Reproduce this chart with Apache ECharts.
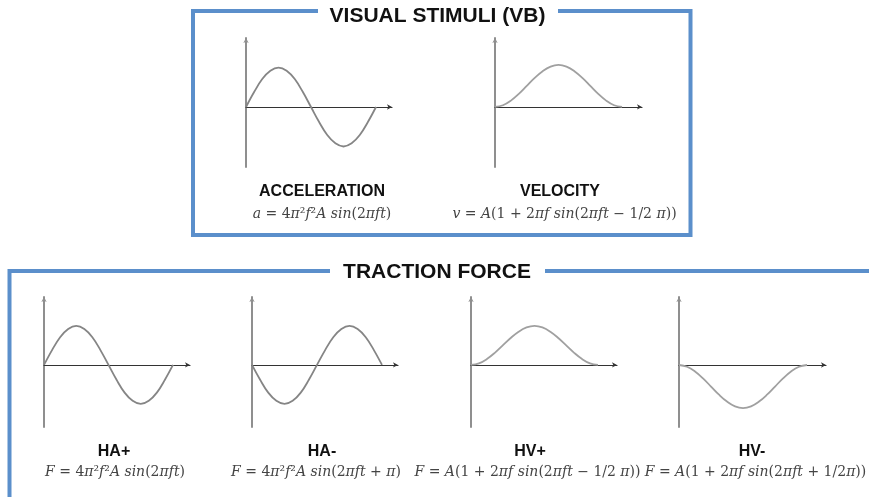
<!DOCTYPE html>
<html>
<head>
<meta charset="utf-8">
<script src="https://cdn.jsdelivr.net/npm/echarts@6/dist/echarts.min.js"></script>
<style>
html,body{margin:0;padding:0;background:#fff;}
#chart{width:869px;height:497px;}
</style>
</head>
<body>
<div id="chart"></div>
<script>
// ---- data (phase of one period, normalised amplitude) ----
const phase = [0, 0.0625, 0.125, 0.1875, 0.25, 0.3125, 0.375, 0.4375, 0.5, 0.5625, 0.625, 0.6875, 0.75, 0.8125, 0.875, 0.9375, 1];
const accelValues = [0, 0.38, 0.71, 0.92, 1, 0.92, 0.71, 0.38, 0, -0.38, -0.71, -0.92, -1, -0.92, -0.71, -0.38, 0];
const veloValues  = [0, 0.04, 0.15, 0.31, 0.5, 0.69, 0.85, 0.96, 1, 0.96, 0.85, 0.69, 0.5, 0.31, 0.15, 0.04, 0];
const haPlusValues  = [0, 0.38, 0.71, 0.92, 1, 0.92, 0.71, 0.38, 0, -0.38, -0.71, -0.92, -1, -0.92, -0.71, -0.38, 0];
const haMinusValues = [0, -0.38, -0.71, -0.92, -1, -0.92, -0.71, -0.38, 0, 0.38, 0.71, 0.92, 1, 0.92, 0.71, 0.38, 0];
const hvPlusValues  = [0, 0.04, 0.15, 0.31, 0.5, 0.69, 0.85, 0.96, 1, 0.96, 0.85, 0.69, 0.5, 0.31, 0.15, 0.04, 0];
const hvMinusValues = [0, -0.04, -0.15, -0.31, -0.5, -0.69, -0.85, -0.96, -1, -0.96, -0.85, -0.69, -0.5, -0.31, -0.15, -0.04, 0];

const panelNames = ['ACCELERATION', 'VELOCITY', 'HA+', 'HA-', 'HV+', 'HV-'];
const panelFormulas = [
  '{i|a} = 4{i|π}²{i|f}²{i|A sin}(2{i|πft})',
  '{i|v} = {i|A}(1 + 2{i|πf sin}(2{i|πft} − 1/2 {i|π}))',
  '{i|F} = 4{i|π}²{i|f}²{i|A sin}(2{i|πft})',
  '{i|F} = 4{i|π}²{i|f}²{i|A sin}(2{i|πft} + {i|π})',
  '{i|F} = {i|A}(1 + 2{i|πf sin}(2{i|πft} − 1/2 {i|π}))',
  '{i|F} = {i|A}(1 + 2{i|πf sin}(2{i|πft} + 1/2{i|π}))'
];
const panelSeries = [accelValues, veloValues, haPlusValues, haMinusValues, hvPlusValues, hvMinusValues];
const groupTitles = ['VISUAL STIMULI (VB)', 'TRACTION FORCE'];

// ---- layout ----
const layout = [
  {left: 246, top: 38,  width: 146, height: 129, xMax: 1.123, yMin: -1.52, yMax: 1.75, lx: 322, ly: 192, fx: 322,   fy: 214},
  {left: 495, top: 38,  width: 147, height: 129, xMax: 1.157, yMin: -1.43, yMax: 1.64, lx: 560, ly: 192, fx: 564.5, fy: 214},
  {left: 44,  top: 297, width: 146, height: 130, xMax: 1.132, yMin: -1.59, yMax: 1.74, lx: 114, ly: 452, fx: 115,   fy: 472},
  {left: 252, top: 297, width: 146, height: 130, xMax: 1.123, yMin: -1.59, yMax: 1.74, lx: 322, ly: 452, fx: 316,   fy: 472},
  {left: 471, top: 297, width: 146, height: 130, xMax: 1.150, yMin: -1.59, yMax: 1.74, lx: 530, ly: 452, fx: 527.5, fy: 472},
  {left: 679, top: 297, width: 147, height: 130, xMax: 1.148, yMin: -1.44, yMax: 1.58, lx: 752, ly: 452, fx: 755.5, fy: 472}
];

const BLUE = '#5b8fcb';
const SERIF = '"DejaVu Serif", "Liberation Serif", serif';
const grid = [], xAxis = [], yAxis = [], series = [], graphic = [];

layout.forEach((L, i) => {
  grid.push({left: L.left, top: L.top, width: L.width, height: L.height, containLabel: false});
  xAxis.push({
    type: 'value', gridIndex: i, min: 0, max: L.xMax,
    axisLine: {show: true, onZero: true, symbol: ['none', 'arrow'], symbolSize: [4, 5], lineStyle: {color: '#333333', width: 1.2}},
    axisTick: {show: false}, axisLabel: {show: false}, splitLine: {show: false}
  });
  yAxis.push({
    type: 'value', gridIndex: i, min: L.yMin, max: L.yMax,
    axisLine: {show: true, symbol: ['none', 'arrow'], symbolSize: [4, 5], lineStyle: {color: '#8f8f8f', width: 2}},
    axisTick: {show: false}, axisLabel: {show: false}, splitLine: {show: false}
  });
  series.push({
    type: 'line', xAxisIndex: i, yAxisIndex: i, smooth: 0.4, showSymbol: false, silent: true,
    data: phase.map((p, k) => [p, panelSeries[i][k]]),
    lineStyle: {color: i === 1 || i === 4 || i === 5 ? '#a0a0a0' : '#858585', width: 1.8}
  });
  graphic.push({
    type: 'text', x: L.lx, y: L.ly,
    style: {text: panelNames[i], align: 'center', verticalAlign: 'middle',
      font: 'bold 16px "Liberation Sans", Arial, sans-serif', fill: '#111'}
  });
  graphic.push({
    type: 'text', x: L.fx, y: L.fy,
    style: {text: panelFormulas[i], align: 'center', verticalAlign: 'middle',
      font: '14px ' + SERIF, fill: '#444',
      rich: {i: {fontStyle: 'italic', fontFamily: SERIF, fontSize: 14, fill: '#444'}}}
  });
});

// frames
graphic.push({type: 'polyline', shape: {points: [[318, 11], [193, 11], [193, 235], [690.5, 235], [690.5, 11], [558, 11]]},
  style: {stroke: BLUE, lineWidth: 4, fill: null}, silent: true});
graphic.push({type: 'polyline', shape: {points: [[330, 271], [9.5, 271], [9.5, 520]]},
  style: {stroke: BLUE, lineWidth: 4, fill: null}, silent: true});
graphic.push({type: 'polyline', shape: {points: [[545, 271], [880, 271]]},
  style: {stroke: BLUE, lineWidth: 4, fill: null}, silent: true});
graphic.push({type: 'text', x: 437.5, y: 16,
  style: {text: groupTitles[0], align: 'center', verticalAlign: 'middle', font: 'bold 21px "Liberation Sans", Arial, sans-serif', fill: '#111'}});
graphic.push({type: 'text', x: 437, y: 272,
  style: {text: groupTitles[1], align: 'center', verticalAlign: 'middle', font: 'bold 21px "Liberation Sans", Arial, sans-serif', fill: '#111'}});

const chart = echarts.init(document.getElementById('chart'), null, {renderer: 'canvas'});
chart.setOption({animation: false, backgroundColor: '#fff', grid, xAxis, yAxis, series, graphic});
</script>
</body>
</html>
